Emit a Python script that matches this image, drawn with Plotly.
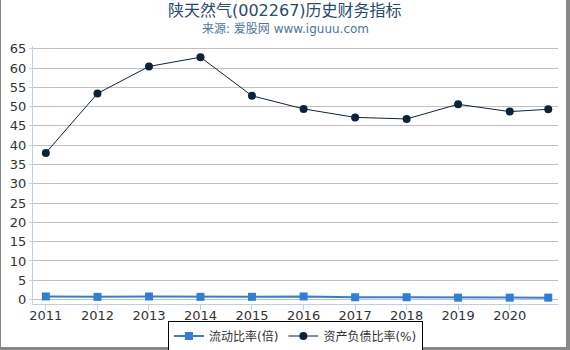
import plotly.graph_objects as go

dates = ["2011-12-31", "2012-12-31", "2013-12-31", "2014-12-31", "2015-12-31",
         "2016-12-31", "2017-12-31", "2018-12-31", "2019-12-31", "2020-12-31", "2021-09-30"]
tick_dates = dates[:10]
tick_labels = ["2011", "2012", "2013", "2014", "2015", "2016", "2017", "2018", "2019", "2020"]
current_ratio = [0.8, 0.7, 0.8, 0.7, 0.7, 0.8, 0.6, 0.6, 0.5, 0.5, 0.5]
debt_ratio = [38.0, 53.4, 60.4, 62.8, 52.8, 49.4, 47.2, 46.8, 50.6, 48.7, 49.3]

W, H = 570, 350
ML, MR, MT, MB = 33, 12, 46, 46
PW, PH = W - ML - MR, H - MT - MB

def px(x):
    return (x - ML) / PW

def py(y):
    return (H - MB - y) / PH

FONT = "DejaVu Sans, Noto Sans CJK SC, sans-serif"

fig = go.Figure()
fig.add_trace(go.Scatter(
    x=dates, y=current_ratio, name="流动比率(倍)", mode="lines+markers",
    line=dict(color="#2f7ed8", width=2),
    marker=dict(symbol="square", size=8, color="#2f7ed8"),
))
fig.add_trace(go.Scatter(
    x=dates, y=debt_ratio, name="资产负债比率(%)", mode="lines+markers",
    line=dict(color="#0d233a", width=1),
    marker=dict(symbol="circle", size=8, color="#0d233a"),
))

fig.update_layout(
    width=W, height=H,
    margin=dict(l=ML, r=MR, t=MT, b=MB, autoexpand=False),
    paper_bgcolor="white", plot_bgcolor="white",
    font=dict(family=FONT, size=13, color="#333333"),
    showlegend=True,
    legend=dict(
        orientation="h", x=0.5, xanchor="center", y=py(336), yanchor="middle",
        bordercolor="#000000", borderwidth=1, bgcolor="white",
        font=dict(size=12, color="#333333"), itemwidth=30,
        tracegroupgap=0,
    ),
    xaxis=dict(
        type="date", range=["2011-10-01", "2021-12-08"],
        tickvals=tick_dates, ticktext=tick_labels,
        showgrid=False, showline=True, linecolor="#c0d0e0", linewidth=1,
        ticks="outside", ticklen=5, tickcolor="#c0d0e0", ticklabelstandoff=-6,
        tickfont=dict(size=13, color="#333333"), zeroline=False,
    ),
    yaxis=dict(
        range=[-1.15, 65.7], tickvals=list(range(0, 70, 5)),
        showgrid=True, gridcolor="#c0c0c0", gridwidth=1,
        showline=True, linecolor="#c0d0e0", linewidth=1,
        ticks="outside", ticklen=3, tickcolor="#c0d0e0",
        tickfont=dict(size=13, color="#333333"), zeroline=False,
    ),
    annotations=[
        dict(text="陕天然气(002267)历史财务指标", x=px(285), y=py(11), xref="paper", yref="paper",
             xanchor="center", yanchor="middle", showarrow=False,
             font=dict(size=16, color="#274b6d", family=FONT)),
        dict(text="来源: 爱股网 www.iguuu.com", x=px(285), y=py(29), xref="paper", yref="paper",
             xanchor="center", yanchor="middle", showarrow=False,
             font=dict(size=12, color="#4d759e", family=FONT)),
    ],
    shapes=[
        dict(type="line", xref="paper", yref="paper", x0=px(0.5), x1=px(0.5), y0=py(0), y1=py(350),
             line=dict(color="#888888", width=1)),
        dict(type="rect", xref="paper", yref="paper", x0=px(566), x1=px(570), y0=py(0), y1=py(350),
             line=dict(width=0), fillcolor="#888888"),
        dict(type="rect", xref="paper", yref="paper", x0=px(0), x1=px(570), y0=py(347), y1=py(350),
             line=dict(width=0), fillcolor="#888888"),
    ],
)

fig.write_html("out.html")
